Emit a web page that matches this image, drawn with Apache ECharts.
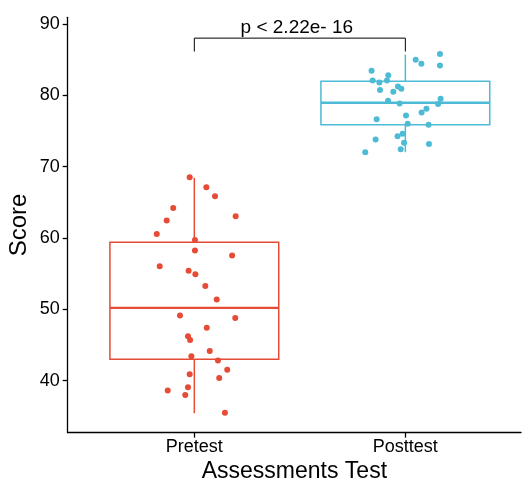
<!DOCTYPE html>
<html>
<head>
<meta charset="utf-8">
<script src="https://cdn.jsdelivr.net/npm/echarts@6/dist/echarts.min.js"></script>
<style>
  html, body { margin: 0; padding: 0; background: #fff; }
  #chart { width: 522px; height: 479px; }
</style>
</head>
<body>
<div id="chart"></div>
<script>
var dom = document.getElementById('chart');
var myChart = echarts.init(dom, null, { renderer: 'canvas' });

const categories = ['Pretest', 'Posttest'];
const colors = ['#E64B35', '#4DBBD5'];
const yTicks = [40, 50, 60, 70, 80, 90];

// [jittered x, score]
const pretestPoints = [
    [0.978, 68.53], [1.057, 67.12], [1.098, 65.86], [0.900, 64.22], [1.196, 63.06],
    [0.869, 62.44], [0.822, 60.57], [1.003, 59.73], [1.003, 58.23], [1.179, 57.53],
    [0.836, 56.04], [0.973, 55.39], [1.005, 54.92], [1.052, 53.28], [1.106, 51.36],
    [0.932, 49.12], [1.194, 48.79], [1.059, 47.43], [0.970, 46.23], [0.980, 45.71],
    [1.073, 44.17], [0.986, 43.42], [1.112, 42.81], [1.156, 41.54], [0.978, 40.90],
    [1.118, 40.38], [0.874, 38.60], [0.970, 39.07], [0.957, 37.99], [1.145, 35.51]
];
const posttestPoints = [
    [2.164, 85.78], [2.049, 84.98], [2.076, 84.42], [2.164, 84.18], [1.840, 83.44],
    [1.919, 82.83], [1.845, 82.08], [1.877, 81.80], [1.913, 82.08], [1.880, 80.73],
    [1.965, 81.23], [1.981, 80.91], [1.943, 80.49], [1.918, 79.23], [1.973, 78.85],
    [2.167, 79.51], [2.155, 78.77], [2.100, 78.11], [2.077, 77.59], [2.003, 77.17],
    [1.864, 76.66], [2.011, 76.00], [2.110, 75.86], [1.987, 74.60], [1.963, 74.28],
    [1.859, 73.80], [1.994, 73.34], [2.112, 73.16], [1.978, 72.45], [1.810, 72.03]
];
// min, Q1, median, Q3, max
const boxStats = [
    [35.43, 43.0, 50.2, 59.4, 68.43],
    [72.03, 75.89, 78.97, 81.96, 85.7]
];
const pLabel = 'p < 2.22e- 16';
const bracketY = [86.14, 88.02]; // foot, top

const fontFamily = '"Liberation Sans", Arial, sans-serif';

function renderBox(params, api) {
    var x = api.value(0);
    var mn = api.value(1), q1 = api.value(2), md = api.value(3), q3 = api.value(4), mx = api.value(5);
    var c = colors[params.dataIndex];
    var half = 0.4;
    var tl = api.coord([x - half, q3]);
    var br = api.coord([x + half, q1]);
    var m1 = api.coord([x - half, md]);
    var m2 = api.coord([x + half, md]);
    var wTop = api.coord([x, mx]);
    var wQ3 = api.coord([x, q3]);
    var wQ1 = api.coord([x, q1]);
    var wBot = api.coord([x, mn]);
    var ls = { stroke: c, lineWidth: 1.5, fill: null };
    return {
        type: 'group',
        children: [
            { type: 'line', shape: { x1: wTop[0], y1: wTop[1], x2: wQ3[0], y2: wQ3[1] }, style: ls },
            { type: 'line', shape: { x1: wQ1[0], y1: wQ1[1], x2: wBot[0], y2: wBot[1] }, style: ls },
            { type: 'rect', shape: { x: tl[0], y: tl[1], width: br[0] - tl[0], height: br[1] - tl[1] }, style: { stroke: c, lineWidth: 1.5, fill: 'none' } },
            { type: 'line', shape: { x1: m1[0], y1: m1[1], x2: m2[0], y2: m2[1] }, style: { stroke: c, lineWidth: 2.4 } }
        ]
    };
}

function renderBracket(params, api) {
    var a = api.coord([1, bracketY[0]]);
    var b = api.coord([1, bracketY[1]]);
    var c = api.coord([2, bracketY[1]]);
    var d = api.coord([2, bracketY[0]]);
    return {
        type: 'group',
        children: [
            { type: 'polyline', shape: { points: [a, b, c, d] }, style: { stroke: '#000', lineWidth: 1, fill: null } },
            { type: 'text', x: (b[0] + c[0]) / 2 - 3, y: b[1] - 1, style: { text: pLabel, fill: '#000', font: '19px ' + fontFamily, textAlign: 'center', textVerticalAlign: 'bottom' } }
        ]
    };
}

var option = {
    animation: false,
    grid: { left: 67.7, right: 1, top: 17.3, bottom: 46.3, containLabel: false, outerBoundsMode: 'none' },
    xAxis: {
        type: 'value',
        min: 0.4,
        max: 2.548,
        splitLine: { show: false },
        axisLine: { show: true, onZero: false, lineStyle: { color: '#000', width: 1.3 } },
        axisTick: { show: true, customValues: [1, 2], length: 5, lineStyle: { color: '#000', width: 1.3 } },
        axisLabel: {
            customValues: [1, 2],
            formatter: function (v) { return categories[Math.round(v) - 1]; },
            color: '#000', fontSize: 18, fontFamily: fontFamily, margin: 5
        },
        name: 'Assessments Test',
        nameLocation: 'middle',
        nameGap: 27,
        nameMoveOverlap: false,
        nameTextStyle: { color: '#000', fontSize: 23, fontFamily: fontFamily }
    },
    yAxis: {
        type: 'value',
        min: 32.7,
        max: 90.94,
        splitLine: { show: false },
        axisLine: { show: true, onZero: false, lineStyle: { color: '#000', width: 1.3 } },
        axisTick: { show: true, customValues: yTicks, length: 5, lineStyle: { color: '#000', width: 1.3 } },
        axisLabel: { customValues: yTicks, color: '#000', fontSize: 18, fontFamily: fontFamily, margin: 8 },
        name: 'Score',
        nameLocation: 'middle',
        nameGap: 36,
        nameMoveOverlap: false,
        nameTextStyle: { color: '#000', fontSize: 24, fontFamily: fontFamily }
    },
    series: [
        {
            type: 'custom',
            renderItem: renderBox,
            data: boxStats.map(function (s, i) { return [i + 1].concat(s); }),
            z: 2
        },
        {
            name: categories[0],
            type: 'scatter',
            data: pretestPoints,
            symbolSize: 6,
            itemStyle: { color: colors[0], opacity: 1 },
            z: 3
        },
        {
            name: categories[1],
            type: 'scatter',
            data: posttestPoints,
            symbolSize: 6,
            itemStyle: { color: colors[1], opacity: 1 },
            z: 3
        },
        {
            type: 'custom',
            renderItem: renderBracket,
            data: [[1.5, bracketY[1]]],
            clip: false,
            z: 4
        }
    ]
};

myChart.setOption(option);
window.addEventListener('resize', myChart.resize);
</script>
</body>
</html>
